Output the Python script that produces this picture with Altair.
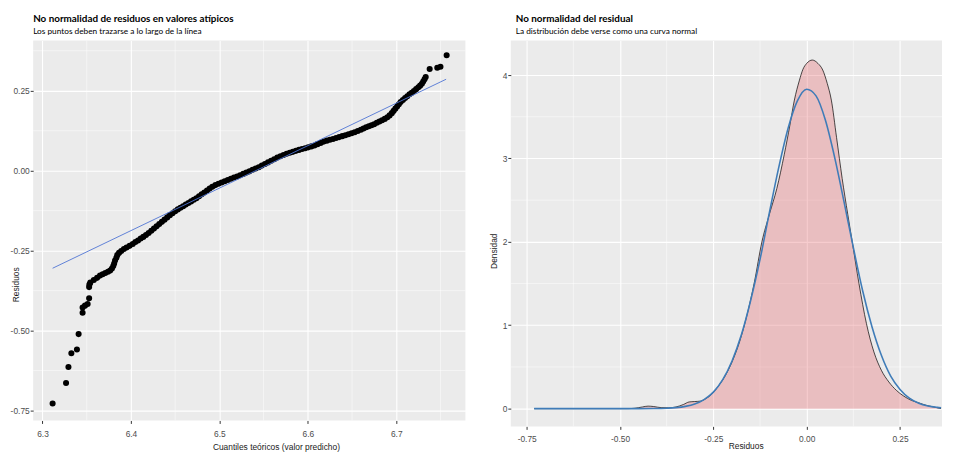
import altair as alt
import pandas as pd

# ---------------- Left panel: Q-Q plot ----------------
qq_x = [6.3114, 6.3266, 6.3293, 6.3326, 6.3389, 6.3408, 6.3453, 6.3453, 6.3480, 6.3510, 6.3527, 6.3527, 6.3530,
        6.3540, 6.3580, 6.3617, 6.3650, 6.3680, 6.3710, 6.3740, 6.3765, 6.3785, 6.3800, 6.3810, 6.3820, 6.3835,
        6.3845, 6.3865, 6.3890, 6.3920, 6.3950, 6.3985, 6.4020, 6.4050, 6.4080, 6.4110, 6.4140, 6.4170, 6.4200,
        6.4230, 6.4260, 6.4290, 6.4320, 6.4350, 6.4380, 6.4410, 6.4440, 6.4470, 6.4500, 6.4530, 6.4560, 6.4590,
        6.4620, 6.4650, 6.4680, 6.4710, 6.4740, 6.4770, 6.4800, 6.4830, 6.4860, 6.4890, 6.4920, 6.4955, 6.4990,
        6.5025, 6.5060, 6.5095, 6.5130, 6.5165, 6.5200, 6.5235, 6.5270, 6.5305, 6.5340, 6.5375, 6.5410, 6.5445,
        6.5480, 6.5515, 6.5550, 6.5585, 6.5620, 6.5655, 6.5690, 6.5725, 6.5760, 6.5795, 6.5830, 6.5865, 6.5900,
        6.5935, 6.5970, 6.6005, 6.6040, 6.6075, 6.6110, 6.6145, 6.6180, 6.6215, 6.6250, 6.6285, 6.6320, 6.6355,
        6.6390, 6.6425, 6.6460, 6.6495, 6.6530, 6.6565, 6.6600, 6.6630, 6.6660, 6.6690, 6.6720, 6.6750, 6.6780,
        6.6810, 6.6840, 6.6870, 6.6900, 6.6925, 6.6950, 6.6970, 6.6990, 6.7010, 6.7030, 6.7050, 6.7075, 6.7100,
        6.7125, 6.7150, 6.7175, 6.7200, 6.7225, 6.7250, 6.7270, 6.7290, 6.7305, 6.7320, 6.7333,
        6.7378, 6.7464, 6.7500, 6.7570]
qq_y = [-0.728, -0.664, -0.614, -0.571, -0.559, -0.511, -0.444, -0.428, -0.422, -0.417, -0.399, -0.364, -0.356,
        -0.350, -0.342, -0.335, -0.328, -0.324, -0.320, -0.316, -0.312, -0.306, -0.298, -0.290, -0.281, -0.272,
        -0.264, -0.257, -0.251, -0.245, -0.240, -0.235, -0.229, -0.223, -0.218, -0.212, -0.207, -0.201, -0.195,
        -0.188, -0.181, -0.174, -0.167, -0.160, -0.153, -0.146, -0.139, -0.133, -0.127, -0.121, -0.116, -0.111,
        -0.106, -0.101, -0.096, -0.091, -0.086, -0.080, -0.074, -0.068, -0.062, -0.056, -0.050, -0.045, -0.041,
        -0.037, -0.033, -0.029, -0.025, -0.021, -0.018, -0.014, -0.010, -0.006, -0.002, 0.003, 0.007, 0.011,
        0.016, 0.021, 0.026, 0.031, 0.036, 0.041, 0.045, 0.049, 0.053, 0.056, 0.059, 0.062, 0.065,
        0.068, 0.070, 0.073, 0.076, 0.079, 0.083, 0.087, 0.091, 0.094, 0.097, 0.099, 0.102, 0.105,
        0.108, 0.111, 0.114, 0.117, 0.120, 0.124, 0.128, 0.132, 0.136, 0.139, 0.142, 0.145, 0.150,
        0.154, 0.158, 0.162, 0.167, 0.173, 0.180, 0.187, 0.194, 0.201, 0.208, 0.215, 0.221, 0.227,
        0.233, 0.239, 0.244, 0.249, 0.255, 0.261, 0.266, 0.272, 0.279, 0.286, 0.293,
        0.318, 0.322, 0.325, 0.361]

qqline_x = [6.3114, 6.7564]
qqline_y = [-0.305, 0.286]

left_major_x = [6.3, 6.4, 6.5, 6.6, 6.7]
left_minor_x = [6.35, 6.45, 6.55, 6.65, 6.75]
left_major_y = [-0.75, -0.5, -0.25, 0.0, 0.25]
left_minor_y = [-0.625, -0.375, -0.125, 0.125, 0.375]

# ---------------- Right panel: density ----------------
kde_x = [-0.73, -0.60, -0.48, -0.46, -0.44, -0.425, -0.41, -0.39, -0.37, -0.35, -0.33, -0.315, -0.30, -0.285,
         -0.27, -0.255, -0.24, -0.22, -0.20, -0.18, -0.16, -0.14, -0.12, -0.10, -0.08, -0.06, -0.045, -0.033,
         -0.02, -0.01, 0.0, 0.015, 0.03, 0.043, 0.055, 0.066, 0.08, 0.095, 0.11, 0.122, 0.14, 0.16, 0.18, 0.20,
         0.22, 0.24, 0.26, 0.28, 0.30, 0.32, 0.34, 0.36]
kde_y = [0.0, 0.0, 0.0, 0.005, 0.02, 0.03, 0.025, 0.012, 0.01, 0.02, 0.05, 0.08, 0.085, 0.09,
         0.12, 0.17, 0.25, 0.38, 0.56, 0.80, 1.12, 1.52, 2.00, 2.33, 2.64, 3.05, 3.40, 3.70,
         3.93, 4.07, 4.14, 4.18, 4.14, 4.06, 3.90, 3.70, 3.25, 2.76, 2.33, 2.00, 1.50, 1.02, 0.68, 0.46,
         0.32, 0.22, 0.15, 0.10, 0.07, 0.04, 0.02, 0.0]

norm_x = [-0.73, -0.60, -0.50, -0.45, -0.40, -0.375, -0.35, -0.325, -0.30, -0.275, -0.25, -0.225, -0.20,
          -0.175, -0.15, -0.125, -0.10, -0.075, -0.05, -0.025, 0.0, 0.025, 0.05, 0.075, 0.10, 0.125, 0.15,
          0.175, 0.20, 0.225, 0.25, 0.275, 0.30, 0.325, 0.35, 0.36]
norm_y = [0.0, 0.0, 0.0, 0.0, 0.001, 0.005, 0.012, 0.027, 0.055, 0.109, 0.198, 0.347, 0.572,
          0.885, 1.30, 1.79, 2.35, 2.89, 3.36, 3.69, 3.83, 3.75, 3.46, 3.01, 2.48, 1.93, 1.41,
          0.98, 0.64, 0.39, 0.23, 0.125, 0.065, 0.032, 0.015, 0.01]

right_major_x = [-0.75, -0.5, -0.25, 0.0, 0.25]
right_minor_x = [-0.625, -0.375, -0.125, 0.125]
right_major_y = [0, 1, 2, 3, 4]
right_minor_y = [0.5, 1.5, 2.5, 3.5]

HYPHEN = "replace(format(datum.value, '.2f'), '\u2212', '-')"

# ---------- left encodings ----------
lx_scale = alt.Scale(domain=[6.2894, 6.7782], nice=False, zero=False)
ly_scale = alt.Scale(domain=[-0.781, 0.407], nice=False, zero=False)
lx_axis = alt.Axis(values=left_major_x, format=".1f", title="Cuantiles teóricos (valor predicho)",
                   labelPadding=6, titleX=246, titleY=26, titleBaseline="middle", titleAlign="center")
ly_axis = alt.Axis(values=left_major_y, labelExpr=HYPHEN, title="Residuos", labelPadding=1,
                   titleX=-18, titleY=247, titleBaseline="middle", titleAlign="center", titleAngle=270)


def LX():
    return alt.X("x:Q", scale=lx_scale, axis=lx_axis)


def LY():
    return alt.Y("y:Q", scale=ly_scale, axis=ly_axis)


qq_df = pd.DataFrame({"x": qq_x, "y": qq_y})
qqline_df = pd.DataFrame({"x": qqline_x, "y": qqline_y})
lminx_df = pd.DataFrame({"x": left_minor_x})
lminy_df = pd.DataFrame({"y": left_minor_y})

left = alt.layer(
    alt.Chart(lminx_df).mark_rule(color="white", strokeWidth=0.5).encode(x=LX()),
    alt.Chart(lminy_df).mark_rule(color="white", strokeWidth=0.5).encode(y=LY()),
    alt.Chart(qq_df).mark_circle(color="black", size=38, opacity=1).encode(x=LX(), y=LY()),
    alt.Chart(qqline_df).mark_line(color="#4F74D4", strokeWidth=0.9).encode(x=LX(), y=LY()),
).properties(
    width=438, height=385,
    title=alt.TitleParams("No normalidad de residuos en valores atípicos",
                          subtitle="Los puntos deben trazarse a lo largo de la línea", frame="group"),
)

# ---------- right encodings ----------
rx_scale = alt.Scale(domain=[-0.7926, 0.3625], nice=False, zero=False)
ry_scale = alt.Scale(domain=[-0.213, 4.414], nice=False, zero=False)
rx_axis = alt.Axis(values=right_major_x, labelExpr=HYPHEN, title="Residuos", labelPadding=5,
                   titleX=238, titleY=19, titleBaseline="middle", titleAlign="center")
ry_axis = alt.Axis(values=right_major_y, format="d", title="Densidad", labelPadding=1,
                   titleX=-17, titleY=213, titleBaseline="middle", titleAlign="center", titleAngle=270)


def RX():
    return alt.X("x:Q", scale=rx_scale, axis=rx_axis)


def RY():
    return alt.Y("y:Q", scale=ry_scale, axis=ry_axis)


kde_df = pd.DataFrame({"x": kde_x, "y": kde_y})
norm_df = pd.DataFrame({"x": norm_x, "y": norm_y})
rminx_df = pd.DataFrame({"x": right_minor_x})
rminy_df = pd.DataFrame({"y": right_minor_y})

right = alt.layer(
    alt.Chart(rminx_df).mark_rule(color="white", strokeWidth=0.5).encode(x=RX()),
    alt.Chart(rminy_df).mark_rule(color="white", strokeWidth=0.5).encode(y=RY()),
    alt.Chart(kde_df).mark_area(color="#E4555C", opacity=0.3, interpolate="monotone").encode(x=RX(), y=RY()),
    alt.Chart(kde_df).mark_line(color="black", strokeWidth=0.7, interpolate="monotone").encode(x=RX(), y=RY()),
    alt.Chart(norm_df).mark_line(color="#3F7CB8", strokeWidth=1.6, interpolate="monotone").encode(x=RX(), y=RY()),
).properties(
    width=437, height=391,
    title=alt.TitleParams("No normalidad del residual",
                          subtitle="La distribución debe verse como una curva normal", dx=5, frame="group"),
)

chart = alt.hconcat(left, right, spacing=46, bounds="flush").properties(
    padding={"left": 1.5, "top": 2, "right": 0, "bottom": 0}
).configure_view(
    fill="#EBEBEB", strokeWidth=0
).configure_axis(
    grid=True, gridColor="white", gridWidth=1.1, domain=False,
    tickColor="#333333", tickSize=3,
    labelColor="#4D4D4D", labelFont="Liberation Sans", labelFontSize=8.5,
    titleFont="Liberation Sans", titleFontSize=8.5, titleFontWeight="normal", titleColor="#1A1A1A",
).configure_title(
    font="Lato", fontSize=10, fontWeight="bold", color="black",
    subtitleFont="Lato", subtitleFontSize=8.4, subtitleColor="black",
    anchor="start", offset=5, subtitlePadding=3.5,
)

chart.save("out.html", embed_options={"renderer": "svg", "actions": False})
